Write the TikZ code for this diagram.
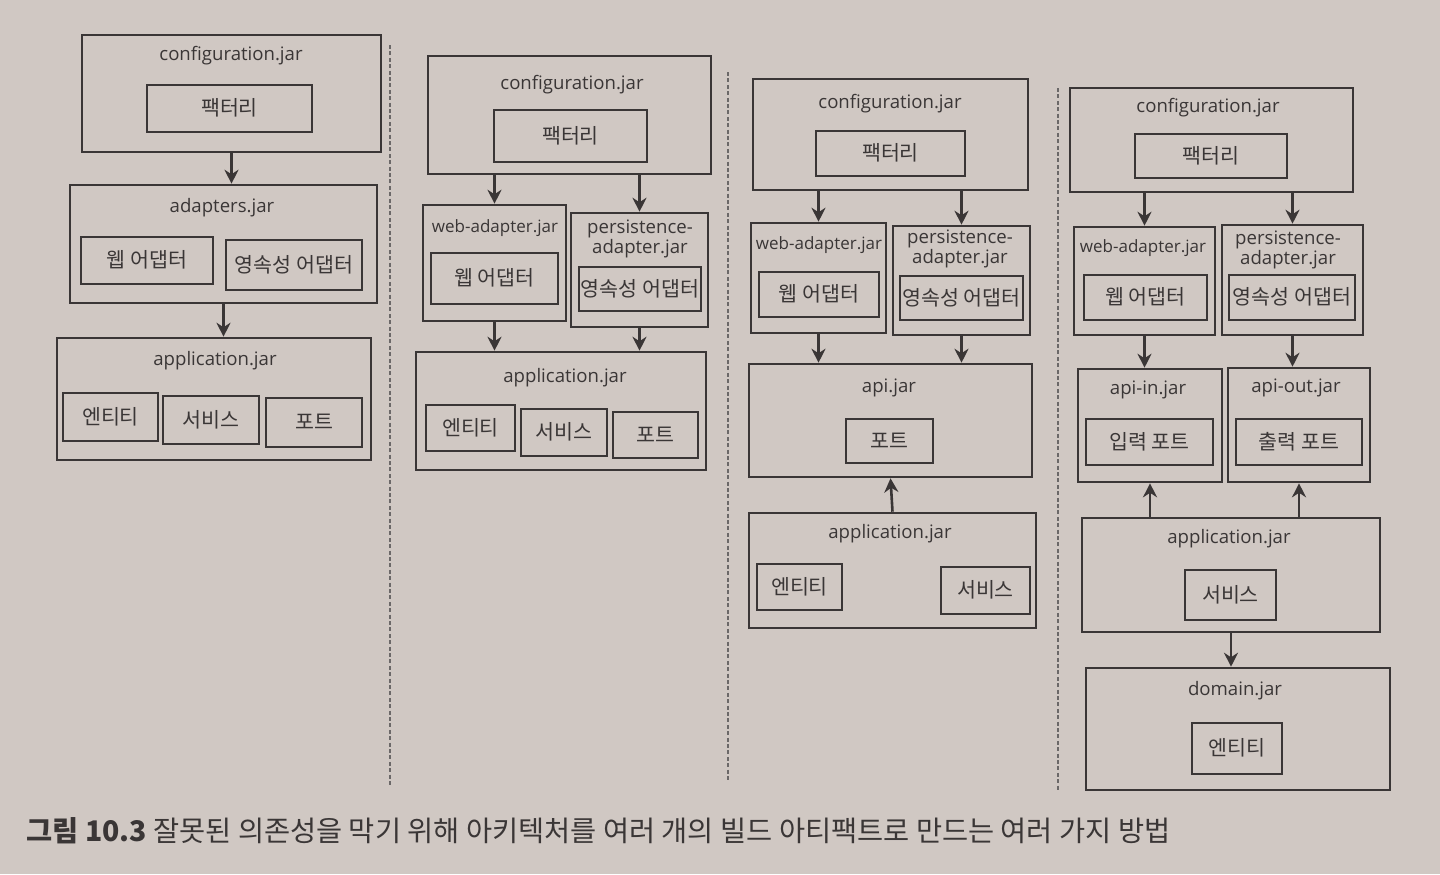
\documentclass[tikz,border=0pt]{standalone}
\usepackage{fontspec}
\setmainfont{Noto Sans CJK KR}
\newfontfamily\jarfont{Open Sans}
\usepackage{tikz}
\usetikzlibrary{arrows.meta,fit}
\definecolor{paper}{RGB}{208,200,195}
\definecolor{ink}{RGB}{58,54,54}

\begin{document}
\begin{tikzpicture}[x=0.5pt, y=-0.5pt, every node/.style={text=ink},
	jar/.style={draw=ink, line width=1.3pt, inner sep=0pt},
	jarname/.style={font=\jarfont\fontsize{9.3}{10.2}\selectfont, align=center, inner sep=0pt},
	webname/.style={jarname, font=\jarfont\fontsize{8.5}{10.2}\selectfont},
	part/.style={draw=ink, line width=1.3pt, inner sep=0pt},
	ptext/.style={inner sep=0pt, font=\fontsize{10.3}{12}\selectfont, text height=0.75em, text depth=0.05em},
	arr/.style={draw=ink, line width=1.3pt, -{Stealth[length=7pt, width=7pt]}},
	sep/.style={draw=ink!75, line width=0.6pt, dash pattern=on 2pt off 1.2pt}]
	\fill[paper] (0,0) rectangle (1440,874);
	% 1: configuration / adapters / application
	\node[jar, fit={(82,35) (381,152)}] (a-cfg) {};
	\node[jarname] (a-cfg-t) at (231,56) {configuration.jar};
	\node[part, fit={(147,85) (312,132)}] (a-fac) {};
	\node[ptext] (a-fac-t) at (a-fac) {팩터리};
	\node[jar, fit={(70,185) (377,303)}] (a-ada) {};
	\node[jarname] (a-ada-t) at (222,208) {adapters.jar};
	\node[part, fit={(81,237) (213,284)}] (a-web) {};
	\node[ptext] (a-web-t) at (a-web) {웹 어댑터};
	\node[part, fit={(226,240) (362,290)}] (a-per) {};
	\node[ptext] (a-per-t) at (a-per) {영속성 어댑터};
	\node[jar, fit={(57,338) (371,460)}] (a-app) {};
	\node[jarname] (a-app-t) at (215,361) {application.jar};
	\node[part, fit={(63,393) (158,441)}] (a-ent) {};
	\node[ptext] (a-ent-t) at (a-ent) {엔티티};
	\node[part, fit={(163,396) (259,444)}] (a-svc) {};
	\node[ptext] (a-svc-t) at (a-svc) {서비스};
	\node[part, fit={(266,398) (362,447)}] (a-port) {};
	\node[ptext] (a-port-t) at (a-port) {포트};
	\draw[arr] (a-cfg.south) -- (a-cfg.south |- a-ada.north);
	\draw[arr] (a-ada.south) -- (a-ada.south |- a-app.north);
	\draw[sep] (390,45) -- (390,785);
	% 2: adapters split in two
	\node[jar, fit={(428,56) (711,174)}] (b-cfg) {};
	\node[jarname] (b-cfg-t) at (572,85) {configuration.jar};
	\node[part, fit={(494,110) (647,162)}] (b-fac) {};
	\node[ptext] (b-fac-t) at (b-fac) {팩터리};
	\node[jar, fit={(423,205) (566,321)}] (b-wj) {};
	\node[webname] (b-wj-t) at (495,228) {web-adapter.jar};
	\node[part, fit={(431,253) (558,304)}] (b-web) {};
	\node[ptext] (b-web-t) at (b-web) {웹 어댑터};
	\node[jar, fit={(571,213) (708,327)}] (b-pj) {};
	\node[jarname] (b-pj-t) at (640,239) {persistence-\\adapter.jar};
	\node[part, fit={(579,267) (701,311)}] (b-per) {};
	\node[ptext] (b-per-t) at (b-per) {영속성 어댑터};
	\node[jar, fit={(416,352) (706,470)}] (b-app) {};
	\node[jarname] (b-app-t) at (565,378) {application.jar};
	\node[part, fit={(426,405) (515,451)}] (b-ent) {};
	\node[ptext] (b-ent-t) at (b-ent) {엔티티};
	\node[part, fit={(521,409) (607,456)}] (b-svc) {};
	\node[ptext] (b-svc-t) at (b-svc) {서비스};
	\node[part, fit={(613,412) (698,458)}] (b-port) {};
	\node[ptext] (b-port-t) at (b-port) {포트};
	\draw[arr] (b-wj.north |- b-cfg.south) -- (b-wj.north);
	\draw[arr] (b-pj.north |- b-cfg.south) -- (b-pj.north);
	\draw[arr] (b-wj.south) -- (b-wj.south |- b-app.north);
	\draw[arr] (b-pj.south) -- (b-pj.south |- b-app.north);
	\draw[sep] (728,72) -- (728,780);
	% 3: ports in api.jar
	\node[jar, fit={(753,79) (1028,190)}] (c-cfg) {};
	\node[jarname] (c-cfg-t) at (890,104) {configuration.jar};
	\node[part, fit={(816,131) (965,176)}] (c-fac) {};
	\node[ptext] (c-fac-t) at (c-fac) {팩터리};
	\node[jar, fit={(751,223) (886,333)}] (c-wj) {};
	\node[webname] (c-wj-t) at (819,245) {web-adapter.jar};
	\node[part, fit={(759,272) (879,317)}] (c-web) {};
	\node[ptext] (c-web-t) at (c-web) {웹 어댑터};
	\node[jar, fit={(893,226) (1030,335)}] (c-pj) {};
	\node[jarname] (c-pj-t) at (960,249) {persistence-\\adapter.jar};
	\node[part, fit={(900,276) (1023,320)}] (c-per) {};
	\node[ptext] (c-per-t) at (c-per) {영속성 어댑터};
	\node[jar, fit={(749,364) (1032,477)}] (c-api) {};
	\node[jarname] (c-api-t) at (889,388) {api.jar};
	\node[part, fit={(846,419) (933,463)}] (c-port) {};
	\node[ptext] (c-port-t) at (c-port) {포트};
	\node[jar, fit={(749,513) (1036,628)}] (c-app) {};
	\node[jarname] (c-app-t) at (890,534) {application.jar};
	\node[part, fit={(757,564) (842,610)}] (c-ent) {};
	\node[ptext] (c-ent-t) at (c-ent) {엔티티};
	\node[part, fit={(941,567) (1030,614)}] (c-svc) {};
	\node[ptext] (c-svc-t) at (c-svc) {서비스};
	\draw[arr] (c-wj.north |- c-cfg.south) -- (c-wj.north);
	\draw[arr] (c-pj.north |- c-cfg.south) -- (c-pj.north);
	\draw[arr] (c-wj.south) -- (c-wj.south |- c-api.north);
	\draw[arr] (c-pj.south) -- (c-pj.south |- c-api.north);
	\draw[arr] (c-app.north) -- (c-api.south);
	\draw[sep] (1058,88) -- (1058,790);
	% 4: in/out ports and domain.jar
	\node[jar, fit={(1070,88) (1353,192)}] (d-cfg) {};
	\node[jarname] (d-cfg-t) at (1208,108) {configuration.jar};
	\node[part, fit={(1135,134) (1287,178)}] (d-fac) {};
	\node[ptext] (d-fac-t) at (d-fac) {팩터리};
	\node[jar, fit={(1074,227) (1215,335)}] (d-wj) {};
	\node[webname] (d-wj-t) at (1143,248) {web-adapter.jar};
	\node[part, fit={(1084,275) (1207,320)}] (d-web) {};
	\node[ptext] (d-web-t) at (d-web) {웹 어댑터};
	\node[jar, fit={(1222,225) (1363,335)}] (d-pj) {};
	\node[jarname] (d-pj-t) at (1288,250) {persistence-\\adapter.jar};
	\node[part, fit={(1229,275) (1355,320)}] (d-per) {};
	\node[ptext] (d-per-t) at (d-per) {영속성 어댑터};
	\node[jar, fit={(1078,369) (1222,482)}] (d-in) {};
	\node[jarname] (d-in-t) at (1148,390) {api-in.jar};
	\node[part, fit={(1086,419) (1213,465)}] (d-inport) {};
	\node[ptext] (d-inport-t) at (d-inport) {입력 포트};
	\node[jar, fit={(1228,368) (1370,482)}] (d-out) {};
	\node[jarname] (d-out-t) at (1296,388) {api-out.jar};
	\node[part, fit={(1236,419) (1362,465)}] (d-outport) {};
	\node[ptext] (d-outport-t) at (d-outport) {출력 포트};
	\node[jar, fit={(1082,518) (1380,632)}] (d-app) {};
	\node[jarname] (d-app-t) at (1229,539) {application.jar};
	\node[part, fit={(1185,570) (1276,620)}] (d-svc) {};
	\node[ptext] (d-svc-t) at (d-svc) {서비스};
	\node[jar, fit={(1086,668) (1390,790)}] (d-dom) {};
	\node[jarname] (d-dom-t) at (1235,691) {domain.jar};
	\node[part, fit={(1192,723) (1282,774)}] (d-ent) {};
	\node[ptext] (d-ent-t) at (d-ent) {엔티티};
	\draw[arr] (d-wj.north |- d-cfg.south) -- (d-wj.north);
	\draw[arr] (d-pj.north |- d-cfg.south) -- (d-pj.north);
	\draw[arr] (d-wj.south) -- (d-wj.south |- d-in.north);
	\draw[arr] (d-pj.south) -- (d-pj.south |- d-out.north);
	\draw[arr] (d-in.south |- d-app.north) -- (d-in.south);
	\draw[arr] (d-out.south |- d-app.north) -- (d-out.south);
	\draw[arr] (d-app.south) -- (d-app.south |- d-dom.north);
	% caption
	\node[anchor=west, inner sep=0pt, font=\fontsize{14.2}{16}\selectfont] (caption) at (26,831)
		{\textbf{그림 10.3} 잘못된 의존성을 막기 위해 아키텍처를 여러 개의 빌드 아티팩트로 만드는 여러 가지 방법};
\end{tikzpicture}
\end{document}
